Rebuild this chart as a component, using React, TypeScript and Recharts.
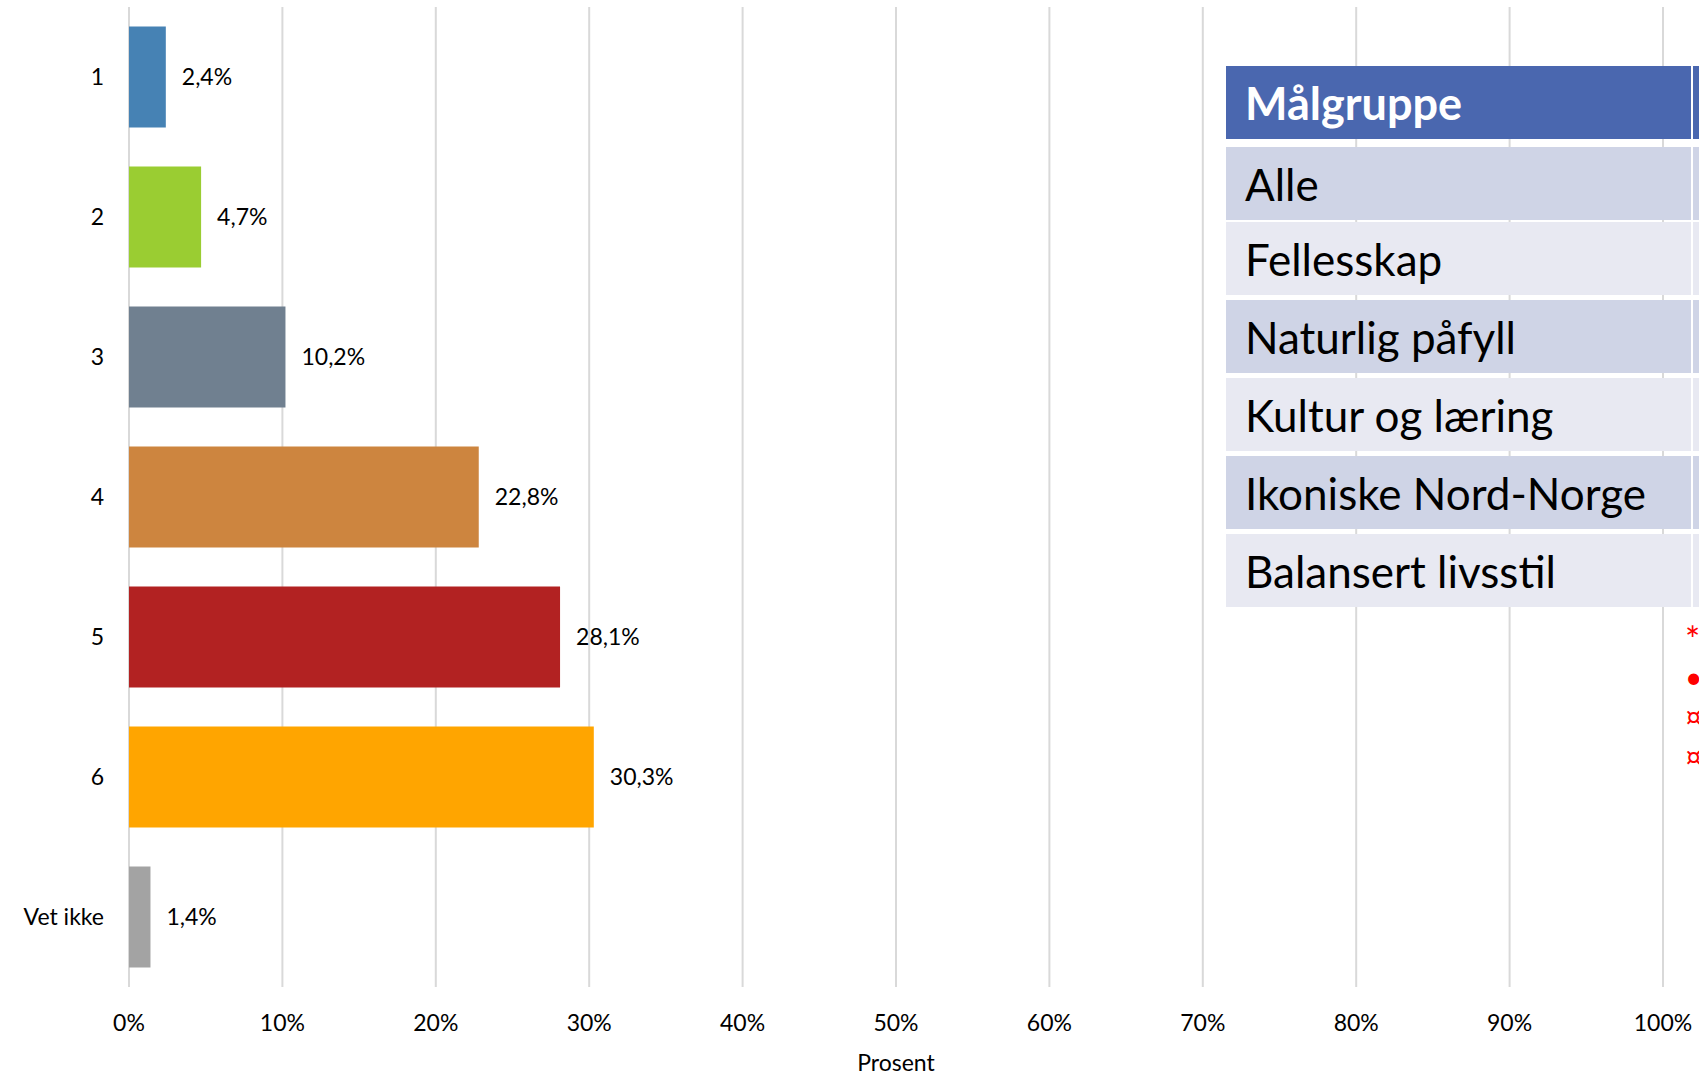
import { BarChart, Bar, XAxis, YAxis, CartesianGrid, Cell, LabelList } from "recharts";

const categories = ["1", "2", "3", "4", "5", "6", "Vet ikke"];
const shares = [2.4, 4.7, 10.2, 22.8, 28.1, 30.3, 1.4];
const barColors = ["#4682B4", "#9ACD32", "#708090", "#CD853F", "#B22222", "#FFA500", "#A3A3A3"];
const xTicks = [0, 10, 20, 30, 40, 50, 60, 70, 80, 90, 100];

const tableHeader = "Målgruppe";
const tableRows = ["Alle", "Fellesskap", "Naturlig påfyll", "Kultur og læring", "Ikoniske Nord-Norge", "Balansert livsstil"];
const noteMarks = ["*", "•", "¤", "¤"];

const FONT = "Lato, 'Open Sans', sans-serif";

const data = categories.map((name, i) => ({ name, value: shares[i] }));

const fmt = (v: any) => `${String(v).replace(".", ",")}%`;

const MaalgruppeTable = () => {
  const rowTops = [147, 222, 300, 378, 456, 534];
  return (
    <div style={{ position: "absolute", left: 0, top: 0, width: 1699, height: 1076, pointerEvents: "none", fontFamily: FONT }}>
      <div style={{ position: "absolute", left: 1226, top: 66, width: 465, height: 73, background: "#4A67AF", color: "#fff", fontWeight: 700, fontSize: 45, display: "flex", alignItems: "center", paddingLeft: 19, boxSizing: "border-box" }}>
        {tableHeader}
      </div>
      <div style={{ position: "absolute", left: 1693, top: 66, width: 100, height: 73, background: "#4A67AF" }} />
      {tableRows.map((row, i) => (
        <div key={row}>
          <div style={{ position: "absolute", left: 1226, top: rowTops[i], width: 465, height: 73, background: i % 2 === 0 ? "#CFD4E6" : "#E8E9F2", color: "#000", fontSize: 44, display: "flex", alignItems: "center", paddingLeft: 19, boxSizing: "border-box", whiteSpace: "nowrap" }}>
            {row}
          </div>
          <div style={{ position: "absolute", left: 1693, top: rowTops[i], width: 100, height: 73, background: i % 2 === 0 ? "#CFD4E6" : "#E8E9F2" }} />
        </div>
      ))}
      {noteMarks.map((m, i) => (
        <div key={i} style={{ position: "absolute", left: 1685, top: (i === 0 ? 624 : 621) + i * 40, color: "#FF0000", fontSize: i === 0 ? 36 : 30, lineHeight: "30px" }}>
          {m}
        </div>
      ))}
    </div>
  );
};

export default function App() {
  return (
    <div style={{ position: "absolute", left: 0, top: 0, width: 1699, height: 1076, overflow: "hidden", background: "#fff" }}>
      <BarChart
        width={1699}
        height={1076}
        data={data}
        layout="vertical"
        margin={{ top: 7, right: 36, left: 0, bottom: 0 }}
        barCategoryGap="14%"
      >
        <CartesianGrid horizontal={false} stroke="#D9D9D9" strokeWidth={2} />
        <XAxis
          type="number"
          domain={[0, 100]}
          ticks={xTicks}
          tickFormatter={(v) => `${v}%`}
          axisLine={false}
          tickLine={false}
          tickSize={0}
          tickMargin={28}
          height={89}
          interval={0}
          tick={{ fontSize: 23, fill: "#000", fontFamily: FONT }}
          label={{ value: "Prosent", position: "insideBottom", offset: 5, fontSize: 23, fill: "#000", fontFamily: FONT }}
        />
        <YAxis
          type="category"
          dataKey="name"
          width={129}
          axisLine={false}
          tickLine={false}
          tickSize={0}
          tickMargin={25}
          tick={{ fontSize: 23, fill: "#000", fontFamily: FONT }}
        />
        <Bar dataKey="value" isAnimationActive={false}>
          {data.map((d, i) => (
            <Cell key={d.name} fill={barColors[i]} />
          ))}
          <LabelList dataKey="value" position="right" offset={16} formatter={fmt} style={{ fontSize: 23, fill: "#000", fontFamily: FONT }} />
        </Bar>
      </BarChart>
      <MaalgruppeTable />
    </div>
  );
}
